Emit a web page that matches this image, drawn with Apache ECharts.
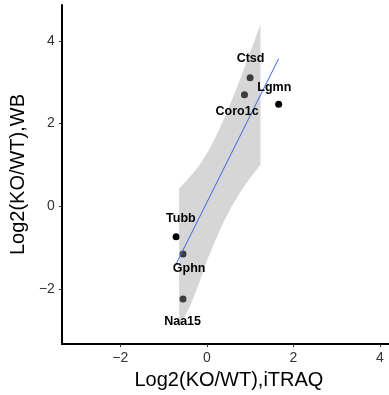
<!DOCTYPE html>
<html>
<head>
<meta charset="utf-8">
<script src="https://cdn.jsdelivr.net/npm/echarts@6/dist/echarts.min.js"></script>
<style>
  html, body { margin: 0; padding: 0; background: #fff; }
  #main { width: 389px; height: 395px; }
</style>
</head>
<body>
<div id="main"></div>
<script>
// proteins: log2 fold change by iTRAQ (x) and by western blot (y)
var genes = ['Ctsd', 'Coro1c', 'Lgmn', 'Tubb', 'Gphn', 'Naa15'];
var itraq = [1.00, 0.87, 1.66, -0.71, -0.55, -0.55];
var wb = [3.11, 2.70, 2.47, -0.74, -1.16, -2.25];

// where the label text sits
var labelX = [1.01, 0.70, 1.56, -0.60, -0.41, -0.56];
var labelY = [3.58, 2.28, 2.88, -0.31, -1.50, -2.79];

// fitted line ends
var fitX = [-0.71, 1.66];
var fitY = [-1.40, 3.57];

// confidence band
var bandX = [-0.64, -0.4, -0.2, 0, 0.2, 0.4, 0.6, 0.8, 1.0, 1.24];
var bandUpper = [0.43, 0.70, 0.95, 1.27, 1.66, 2.12, 2.63, 3.15, 3.72, 4.39];
var bandLower = [-2.93, -2.45, -1.93, -1.32, -0.82, -0.36, 0.04, 0.38, 0.68, 1.00];

var xTicks = [-2, 0, 2, 4];
var yTicks = [-2, 0, 2, 4];

var font = '"Liberation Sans", Arial, Helvetica, sans-serif';
var minus = function (v) { return String(v).replace('-', '\u2212'); };

var points = [];
var labels = [];
for (var i = 0; i < genes.length; i++) {
    points.push([itraq[i], wb[i], genes[i]]);
    labels.push([labelX[i], labelY[i], genes[i]]);
}

var myChart = echarts.init(document.getElementById('main'));
myChart.setOption({
    animation: false,
    backgroundColor: '#fff',
    grid: { left: 57, right: 0, top: 5, bottom: 46 },
    xAxis: {
        type: 'value',
        min: -3.35,
        max: 4.21,
        name: 'Log2(KO/WT),iTRAQ',
        nameLocation: 'middle',
        nameGap: 24,
        nameTextStyle: { fontFamily: font, fontSize: 20, color: '#000', padding: [0, 0, 0, 7] },
        axisLine: { show: true, onZero: false, lineStyle: { color: '#000', width: 2 } },
        axisTick: { show: true, length: 3, customValues: xTicks, lineStyle: { color: '#333' } },
        axisLabel: { customValues: xTicks, formatter: minus, margin: 7, fontFamily: font, fontSize: 14, color: '#333' },
        splitLine: { show: false }
    },
    yAxis: {
        type: 'value',
        min: -3.34,
        max: 4.87,
        name: 'Log2(KO/WT),WB',
        nameLocation: 'middle',
        nameGap: 19,
        nameTextStyle: { fontFamily: font, fontSize: 20, color: '#000' },
        axisLine: { show: true, onZero: false, lineStyle: { color: '#000', width: 2 } },
        axisTick: { show: true, length: 3, customValues: yTicks, lineStyle: { color: '#333' } },
        axisLabel: { customValues: yTicks, formatter: minus, margin: 7, fontFamily: font, fontSize: 14, color: '#333' },
        splitLine: { show: false }
    },
    series: [
        {
            type: 'scatter',
            z: 2,
            symbolSize: 7,
            itemStyle: { color: '#000', opacity: 1 },
            data: points
        },
        {
            type: 'custom',
            z: 3,
            silent: true,
            data: [[bandX[0], bandUpper[0]]],
            renderItem: function (params, api) {
                var pts = [];
                for (var k = 0; k < bandX.length; k++) {
                    pts.push(api.coord([bandX[k], bandUpper[k]]));
                }
                for (var k = bandX.length - 1; k >= 0; k--) {
                    pts.push(api.coord([bandX[k], bandLower[k]]));
                }
                return {
                    type: 'polygon',
                    shape: { points: pts, smooth: 0 },
                    style: { fill: 'rgba(153,153,153,0.4)' }
                };
            }
        },
        {
            type: 'line',
            z: 4,
            symbol: 'none',
            lineStyle: { color: '#3366FF', width: 1 },
            data: [[fitX[0], fitY[0]], [fitX[1], fitY[1]]]
        },
        {
            type: 'scatter',
            z: 5,
            symbolSize: 0,
            silent: true,
            itemStyle: { opacity: 1 },
            label: {
                show: true,
                position: 'inside',
                formatter: function (p) { return p.data[2]; },
                fontFamily: font,
                fontSize: 12.5,
                fontWeight: 'bold',
                color: '#000'
            },
            data: labels
        }
    ]
});
</script>
</body>
</html>
